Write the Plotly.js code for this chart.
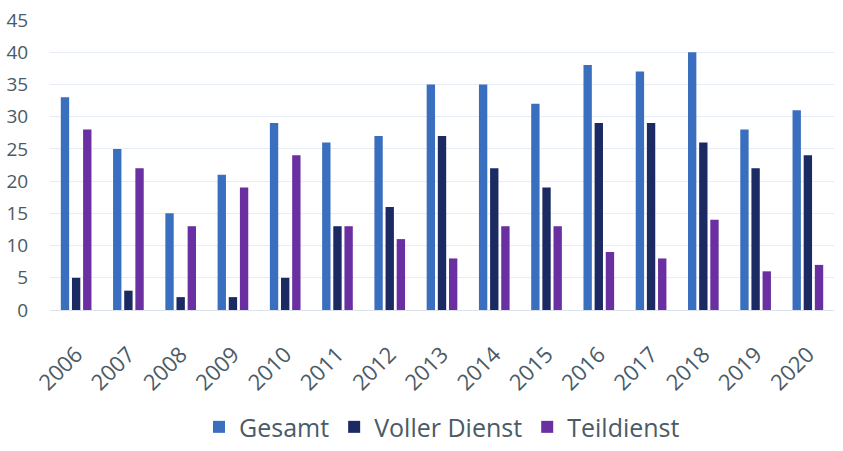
<!DOCTYPE html>
<html><head><meta charset="utf-8">
<script src="https://cdn.plot.ly/plotly-3.0.1.min.js"></script>
<style>html,body{margin:0;padding:0;background:#fff}#c{width:843px;height:451px}</style>
</head><body><div id="c"></div>
<script>
const years = ['2006','2007','2008','2009','2010','2011','2012','2013','2014','2015','2016','2017','2018','2019','2020'];
const gesamt = [33,25,15,21,29,26,27,35,35,32,38,37,40,28,31];
const vollerDienst = [5,3,2,2,5,13,16,27,22,19,29,29,26,22,24];
const teildienst = [28,22,13,19,24,13,11,8,13,13,9,8,14,6,7];
const seriesNames = ['Gesamt','Voller Dienst','Teildienst'];
const colors = ['#3a6fc0','#1b2a63','#6a2fa0'];

const data = [gesamt, vollerDienst, teildienst].map((v,i)=>({
  type:'bar', x:years, y:v, name:seriesNames[i],
  marker:{color:colors[i]}
}));
const tickColor = '#4a5a66';
Plotly.newPlot('c', data, {
  width:843, height:451,
  margin:{l:50,r:9,t:20,b:141, autoexpand:false},
  paper_bgcolor:'#fff', plot_bgcolor:'#fff',
  barmode:'group', bargap:0.36, bargroupgap:0.25,
  font:{family:'Open Sans, sans-serif', color:tickColor},
  xaxis:{type:'category', automargin:false, tickangle:-45, tickfont:{size:22,color:tickColor}, showgrid:false, zeroline:false, showline:false, ticks:'outside', ticklen:22, tickcolor:'rgba(0,0,0,0)'},
  yaxis:{range:[0,45], dtick:5, automargin:false, tickfont:{size:19,color:tickColor}, gridcolor:'#e6edf6', zeroline:true, zerolinecolor:'#dde3ea', ticks:'outside', ticklen:17, tickcolor:'rgba(0,0,0,0)'},
  showlegend:true,
  legend:{orientation:'h', x:0.5, xanchor:'center', yref:'container', y:0.053, yanchor:'middle', font:{size:25,color:tickColor}, itemwidth:30, traceorder:'normal'}
}, {displayModeBar:false, staticPlot:true});
</script></body></html>
